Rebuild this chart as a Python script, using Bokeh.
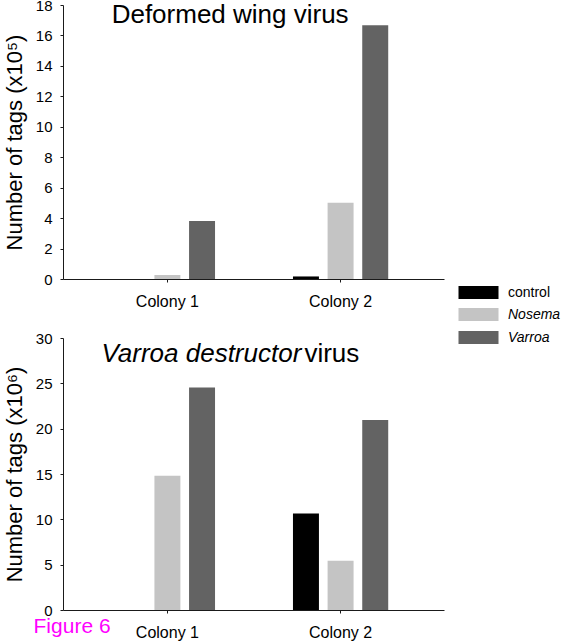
from bokeh.plotting import figure
from bokeh.models import (Range1d, Label, Legend, LegendItem, FixedTicker, ColumnDataSource,
                          LinearAxis)
from bokeh.transform import dodge
from bokeh.embed import file_html
from bokeh.resources import INLINE

# ---------------- data ----------------
colonies = ["Colony 1", "Colony 2"]
treatments = ["control", "Nosema", "Varroa"]

# Deformed wing virus, number of tags (x10^5)
dwv_control = [0.0, 0.2]
dwv_nosema = [0.3, 5.05]
dwv_varroa = [3.85, 16.7]

# Varroa destructor virus, number of tags (x10^6)
vdv_control = [0.0, 10.7]
vdv_nosema = [14.85, 5.5]
vdv_varroa = [24.6, 21.0]

dwv_yticks = [0, 2, 4, 6, 8, 10, 12, 14, 16, 18]
vdv_yticks = [0, 5, 10, 15, 20, 25, 30]

colors = {"control": "#000000", "Nosema": "#C4C4C4", "Varroa": "#636363"}
offsets = {"control": -0.2, "Nosema": 0.0, "Varroa": 0.2}
FONT = "Liberation Sans"

# ---------------- layout geometry (pixels) ----------------
W, H = 566, 643
FRAME_L, FRAME_R = 63, 444          # x extent of both panels' axes
DWV_TOP, DWV_BOT = 5, 279           # y pixel of 18 and 0 (top panel)
VDV_TOP, VDV_BOT = 338, 610         # y pixel of 30 and 0 (bottom panel)
X_LO, X_HI = -0.1, 2.1              # category space shown between axes ends
DWV_MAX, VDV_MAX = 18, 30

ppx = (FRAME_R - FRAME_L) / (X_HI - X_LO)
x_start = X_LO - FRAME_L / ppx
x_end = x_start + W / ppx
pp_vdv = (VDV_BOT - VDV_TOP) / VDV_MAX
vdv_start = -(H - VDV_BOT) / pp_vdv
vdv_end = vdv_start + H / pp_vdv
pp_dwv = (DWV_BOT - DWV_TOP) / DWV_MAX
dwv_start = -(H - DWV_BOT) / pp_dwv
dwv_end = dwv_start + H / pp_dwv

p = figure(width=W, height=H, min_border=0, x_axis_type=None, y_axis_type=None,
           x_range=Range1d(x_start, x_end), y_range=Range1d(vdv_start, vdv_end),
           output_backend="svg", toolbar_location=None, title=None)
p.extra_y_ranges = {"dwv": Range1d(dwv_start, dwv_end)}
p.outline_line_color = None
p.background_fill_color = None
p.border_fill_color = None

colony_pos = [i + 0.5 for i in range(len(colonies))]
tick_labels = {pos: name for pos, name in zip(colony_pos, colonies)}

src_dwv = ColumnDataSource(dict(pos=colony_pos, control=dwv_control, Nosema=dwv_nosema, Varroa=dwv_varroa))
src_vdv = ColumnDataSource(dict(pos=colony_pos, control=vdv_control, Nosema=vdv_nosema, Varroa=vdv_varroa))

r_dwv = {}
for t in treatments:
    r_dwv[t] = p.vbar(x=dodge("pos", offsets[t]), top=t, width=0.15, source=src_dwv,
                      fill_color=colors[t], line_color=None, y_range_name="dwv")
    p.vbar(x=dodge("pos", offsets[t]), top=t, width=0.15, source=src_vdv,
           fill_color=colors[t], line_color=None)


def style_axis(ax, size):
    ax.axis_line_color = "#1a1a1a"
    ax.major_tick_line_color = "#1a1a1a"
    ax.major_tick_out = 3
    ax.major_tick_in = 0
    ax.minor_tick_line_color = None
    ax.major_label_text_font = FONT
    ax.major_label_text_color = "black"
    ax.major_label_text_font_size = size


def add_panel_axes(range_name, ymax, yticks, ylabel):
    kw = {} if range_name is None else {"y_range_name": range_name}
    yax = LinearAxis(fixed_location=X_LO, bounds=(0, ymax), ticker=FixedTicker(ticks=yticks), **kw)
    style_axis(yax, "15px")
    yax.major_label_standoff = 8
    yax.axis_label = ylabel
    yax.axis_label_text_font = FONT
    yax.axis_label_text_font_size = "22px"
    yax.axis_label_text_font_style = "normal"
    yax.axis_label_text_color = "black"
    yax.axis_label_standoff = 6
    p.add_layout(yax, "left")
    xax = LinearAxis(fixed_location=0, bounds=(X_LO, X_HI), ticker=FixedTicker(ticks=colony_pos),
                     major_label_overrides=tick_labels, **kw)
    style_axis(xax, "16px")
    xax.major_label_standoff = 10
    p.add_layout(xax, "below")


add_panel_axes("dwv", DWV_MAX, dwv_yticks, "Number of tags (x10\u2075)")
add_panel_axes(None, VDV_MAX, vdv_yticks, "Number of tags (x10\u2076)")

# titles
p.add_layout(Label(x=0.178, y=17.41, y_range_name="dwv", text="Deformed wing virus", text_font=FONT,
                   text_font_size="26px", text_color="black", text_baseline="middle"))
p.add_layout(Label(x=0.119, y=28.35, text="Varroa destructor", text_font=FONT,
                   text_font_size="26px", text_font_style="italic", text_color="black",
                   text_baseline="middle"))
p.add_layout(Label(x=1.291, y=28.35, text="virus", text_font=FONT,
                   text_font_size="26px", text_color="black", text_baseline="middle"))
p.add_layout(Label(x=-0.273, y=-1.62, text="Figure 6", text_font=FONT, text_font_size="21px",
                   text_color="#FF00FF", text_baseline="middle"))


def legend_box(items, x, y, style):
    return Legend(items=[LegendItem(label=t, renderers=[r_dwv[t]]) for t in items], location=(x, y),
                  orientation="vertical", padding=0, margin=0, spacing=7,
                  border_line_color=None, background_fill_alpha=0,
                  glyph_width=50, glyph_height=16, label_height=16, label_standoff=5,
                  label_text_font=FONT, label_text_font_size="14px",
                  label_text_font_style=style, label_text_color="black")


p.add_layout(legend_box(["control"], 453, 343.5, "normal"), "center")
p.add_layout(legend_box(["Nosema", "Varroa"], 453, 298.5, "italic"), "center")

open("out.html", "w").write(file_html(p, INLINE))
